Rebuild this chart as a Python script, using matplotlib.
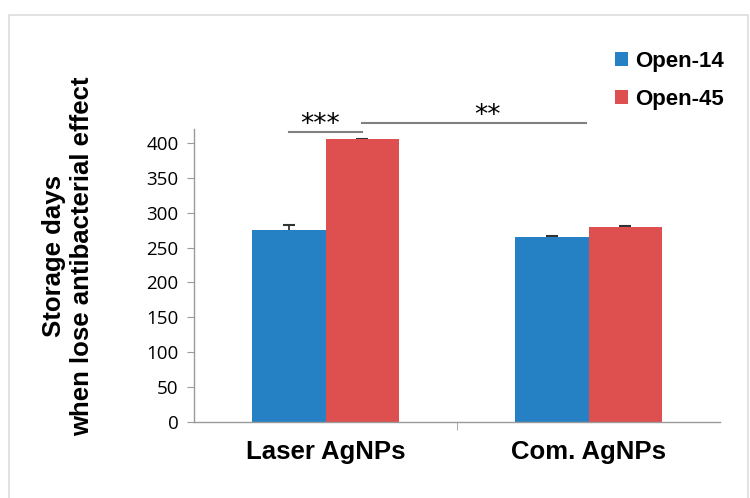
import matplotlib
matplotlib.use("Agg")
import matplotlib.pyplot as plt
import numpy as np

plt.rcParams["font.family"] = ["Liberation Sans", "DejaVu Sans"]

# ── Data ─────────────────────────────────────────────
categories = ["Laser AgNPs", "Com. AgNPs"]
series_names = ["Open-14", "Open-45"]
open14 = [275, 265]
open14_err = [7, 1]
open45 = [405, 280]
open45_err = [1, 1]
yticks = [0, 50, 100, 150, 200, 250, 300, 350, 400]

BLUE = "#2681C4"
RED = "#DE4F4F"
GRAY = "#9a9a9a"

fig = plt.figure(figsize=(7.5, 4.98), dpi=100, facecolor="white")

# light frame around the figure
frame = fig.add_axes([0, 0, 1, 1], facecolor="none")
frame.set_xlim(0, 750)
frame.set_ylim(498, 0)
frame.axis("off")
frame.plot([9, 9, 748, 748], [498, 15, 15, 498], color="#dddddd", lw=1.2)

ax = fig.add_axes([194 / 750, 76 / 498, 526 / 750, 293 / 498])
x = np.arange(len(categories))
w = 0.281
# error bars sit behind the bars so only the upper whisker shows
ekw = dict(ecolor="#333333", elinewidth=1.3, capsize=4, capthick=1.5, zorder=1)
ax.bar(x - w / 2, open14, w, color=BLUE, yerr=open14_err, error_kw=ekw,
       label=series_names[0], zorder=2)
ax.bar(x + w / 2, open45, w, color=RED, yerr=open45_err, error_kw=ekw,
       label=series_names[1], zorder=2)

ax.set_xlim(-0.5, 1.5)
ax.set_ylim(0, 420)
ax.set_yticks(yticks)
ax.set_yticklabels([str(v) for v in yticks], family="Open Sans", fontsize=13.5)
ax.set_xticks(x)
ax.set_xticklabels(categories, fontsize=18.5, fontweight="bold")
ax.set_xticks([0.5], minor=True)
ax.tick_params(axis="x", which="major", length=0, pad=13)
ax.tick_params(axis="x", which="minor", length=6, color=GRAY, direction="out")
ax.tick_params(axis="y", length=5, color=GRAY, pad=6)

for s in ["top", "right"]:
    ax.spines[s].set_visible(False)
for s in ["left", "bottom"]:
    ax.spines[s].set_color(GRAY)
    ax.spines[s].set_linewidth(1.0)

ax.set_ylabel("Storage days\nwhen lose antibacterial effect",
              fontsize=18.5, fontweight="bold", linespacing=1.2)
ax.yaxis.set_label_coords(-0.19, 0.567)

# significance brackets
ax.plot([x[0] - w / 2, x[0] + w / 2], [416, 416], color="#808080", lw=1.5,
        clip_on=False)
ax.text(-0.021, 426, "***", ha="center", va="center", fontsize=19,
        family="DejaVu Sans", clip_on=False)
ax.plot([x[0] + w / 2, x[1] - 0.01], [429, 429], color="#808080", lw=1.5,
        clip_on=False)
ax.text(0.614, 439, "**", ha="center", va="center", fontsize=19,
        family="DejaVu Sans", clip_on=False)

leg = fig.legend(loc="upper left", bbox_to_anchor=(604 / 750, 1 - 40 / 498),
                 frameon=False, prop=dict(size=16, weight="bold"),
                 handlelength=0.6, handleheight=0.6, handletextpad=0.3,
                 labelspacing=0.75, borderpad=0)

fig.savefig("out.png", dpi=100, facecolor="white")
